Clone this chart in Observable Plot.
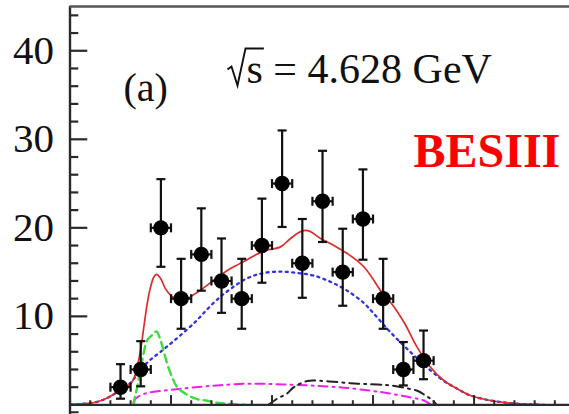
<!DOCTYPE html>
<html><head><meta charset="utf-8">
<script src="https://cdn.jsdelivr.net/npm/d3@7"></script>
<script src="https://cdn.jsdelivr.net/npm/@observablehq/plot@0.6"></script>
<style>html,body{margin:0;padding:0;background:#fff;overflow:hidden}</style>
</head><body><div id="chart"></div>
<script>
// ---- data ----
const binCenters = [0.5,0.7,0.9,1.1,1.3,1.5,1.7,1.9,2.1,2.3,2.5,2.7,2.9,3.1,3.3,3.5];
const counts     = [2,4,20,12,17,14,12,18,25,16,23,15,21,12,4,5];
const errLow     = [0.7,2.1,15.6,8.6,12.9,10.4,8.6,13.8,20.1,12.1,18.4,11.2,16.4,8.6,2.2,2.9];
const errHigh    = [4.6,7.2,25.5,16.5,22.2,18.8,16.5,23.3,31.0,21.0,28.7,19.9,26.6,16.5,7.1,8.4];
const binHalf = 0.1;

const totalX = [0.005,0.252,0.384,0.483,0.582,0.632,0.665,0.698,0.731,0.764,0.797,0.830,0.856,0.896,0.946,0.995,1.045,1.094,1.160,1.243,1.309,1.497,1.589,1.754,1.919,2.084,2.183,2.299,2.364,2.480,2.612,2.745,2.909,3.101,3.173,3.305,3.438,3.569,3.701,3.834,3.965,4.163,4.361,4.559,4.708];
const totalY = [0.05,0.3,0.87,1.6,2.2,2.95,4.3,6.15,8.8,11.4,13.3,14.45,14.75,14.3,13.1,12.4,12.0,11.9,12.0,12.6,13.1,14.7,15.4,16.4,17.4,17.85,18.8,19.65,19.65,18.8,18.0,17.1,15.6,12.5,11.6,9.36,6.5,4.26,2.76,1.82,1.06,0.5,0.2,0.05,0.0];

const bkgX = [0.005,0.252,0.384,0.483,0.582,0.748,0.913,1.077,1.243,1.342,1.457,1.589,1.754,1.919,2.084,2.250,2.414,2.579,2.745,2.909,3.008,3.173,3.371,3.569,3.701,3.834,3.965,4.163,4.361,4.559,4.708];
const bkgY = [0.05,0.3,0.87,1.55,2.3,4.6,6.15,7.7,9.4,10.6,11.9,13.1,14.3,14.9,15.05,14.9,14.6,13.9,12.9,11.5,10.3,8.2,5.96,3.9,2.7,1.82,1.06,0.5,0.2,0.05,0.0];

const peakX = [0.629,0.642,0.665,0.715,0.764,0.814,0.856,0.896,0.929,0.962,1.012,1.061,1.144,1.243,1.342,1.457,1.589,1.738];
const peakY = [0.0,0.87,2.0,5.0,7.3,7.9,8.3,7.3,6.0,4.65,3.1,2.0,1.26,0.7,0.5,0.24,0.1,0.0];

const flatX = [0.629,0.648,0.748,0.913,1.077,1.243,1.457,1.787,2.117,2.448,2.711,2.975,3.107,3.272,3.438,3.503,3.550,3.586];
const flatY = [0.3,0.7,1.3,1.6,1.8,2.0,2.2,2.4,2.3,2.15,1.95,1.6,1.4,1.06,0.7,0.5,0.2,0.0];

const otherX = [1.965,2.051,2.151,2.216,2.349,2.480,2.777,3.042,3.173,3.322,3.438,3.520,3.569,3.602,3.629];
const otherY = [0.0,0.7,1.3,2.0,2.7,2.72,2.45,2.3,2.2,1.9,1.6,1.06,0.7,0.4,0.0];

const yTickLabels = [10,20,30,40];
const yMajorTicks = [10,20,30,40];
const yMinorTicks = [2,4,6,8,12,14,16,18,22,24,26,28,32,34,36,38,42,44];
const xMajorTicks = [1,2,3,4];
const xMinorTicks = [0.2,0.4,0.6,0.8,1.2,1.4,1.6,1.8,2.2,2.4,2.6,2.8,3.2,3.4,3.6,3.8,4.2,4.4,4.6,4.8];

const energyParts = ["s", " = 4.628 GeV"];
const energyLabel = [energyParts.join("")];
const panelLabel = ["(a)"];
const expLabel = ["BESIII"];

// ---- chart ----
const serif = "'Liberation Serif', 'Times New Roman', serif";
const axisColor = "#2a2a2a";
const hCap = {draw(ctx, size){ const r = Math.sqrt(size/Math.PI); ctx.moveTo(-r,0); ctx.lineTo(r,0); }};
const vCap = {draw(ctx, size){ const r = Math.sqrt(size/Math.PI); ctx.moveTo(0,-r); ctx.lineTo(0,r); }};

const chart = Plot.plot({
  width: 569, height: 414,
  marginLeft: 69.5, marginRight: 0, marginTop: 6, marginBottom: 9.6,
  x: {domain: [0, 4.945], axis: null},
  y: {domain: [0, 45], axis: null},
  style: {background: "#fff", fontFamily: serif},
  marks: [
    // curves
    Plot.line(bkgY, {x: bkgX, y: bkgY, stroke: "#2f2ff0", strokeWidth: 2.3, strokeDasharray: "2 4.4", curve: "catmull-rom"}),
    Plot.line(flatY, {x: flatX, y: flatY, stroke: "#ee1fee", strokeWidth: 2, strokeDasharray: "9 5 2 5", curve: "catmull-rom"}),
    Plot.line(otherY, {x: otherX, y: otherY, stroke: "#222", strokeWidth: 2, strokeDasharray: "10 5 2 5", curve: "catmull-rom"}),
    Plot.line(peakY, {x: peakX, y: peakY, stroke: "#3ddc3d", strokeWidth: 2.4, strokeDasharray: "8 5", curve: "catmull-rom"}),
    Plot.line(totalY, {x: totalX, y: totalY, stroke: "#e02b2b", strokeWidth: 1.7, curve: "catmull-rom"}),
    // frame
    Plot.ruleX([0], {y1: -1.1, y2: 45, stroke: axisColor, strokeWidth: 2.4}),
    Plot.ruleY([0], {x1: 0, x2: 4.945, stroke: axisColor, strokeWidth: 2.4}),
    Plot.ruleY([45], {x1: 0, x2: 4.945, stroke: "#555", strokeWidth: 2.4}),
    Plot.ruleY([-0.83], {x1: 0, x2: 0.09, stroke: axisColor, strokeWidth: 2}),
    // ticks
    Plot.ruleY(yMajorTicks, {x1: 0, x2: 0.176, stroke: axisColor, strokeWidth: 2.2}),
    Plot.ruleY(yMinorTicks, {x1: 0, x2: 0.087, stroke: axisColor, strokeWidth: 2.2}),
    Plot.ruleX(xMajorTicks, {y1: 0, y2: 1.05, stroke: axisColor, strokeWidth: 2}),
    Plot.ruleX(xMinorTicks, {y1: 0, y2: 0.47, stroke: axisColor, strokeWidth: 2}),
    Plot.text(yTickLabels, {x: 0, y: d => d, text: d => String(d), textAnchor: "end", lineAnchor: "middle", dx: -16, fontSize: 41, fontFamily: serif, fill: "#111"}),
    // data points
    Plot.ruleX(counts, {x: binCenters, y1: errLow, y2: errHigh, stroke: "#111", strokeWidth: 2.2}),
    Plot.ruleY(counts, {y: counts, x1: binCenters.map(c => c - binHalf), x2: binCenters.map(c => c + binHalf), stroke: "#111", strokeWidth: 2.2}),
    Plot.dot(counts, {x: binCenters, y: errLow, symbol: hCap, r: 4.5, stroke: "#111", strokeWidth: 2.2, fill: "none"}),
    Plot.dot(counts, {x: binCenters, y: errHigh, symbol: hCap, r: 4.5, stroke: "#111", strokeWidth: 2.2, fill: "none"}),
    Plot.dot(counts, {x: binCenters.map(c => c - binHalf), y: counts, symbol: vCap, r: 4.5, stroke: "#111", strokeWidth: 2.2, fill: "none"}),
    Plot.dot(counts, {x: binCenters.map(c => c + binHalf), y: counts, symbol: vCap, r: 4.5, stroke: "#111", strokeWidth: 2.2, fill: "none"}),
    Plot.dot(counts, {x: binCenters, y: counts, r: 7.7, fill: "#000", stroke: "none"}),
    // annotations
    Plot.text(panelLabel, {frameAnchor: "top-left", dx: 53.5, dy: 82, lineAnchor: "middle", text: d => d, textAnchor: "start", fontSize: 40, fontFamily: serif, fill: "#111"}),
    Plot.text(energyLabel, {frameAnchor: "top-left", dx: 156.5, dy: 63.5, lineAnchor: "middle", text: d => d, textAnchor: "start", fontSize: 42, fontFamily: serif, fill: "#111"}),
    Plot.text(expLabel, {frameAnchor: "top-left", dx: 343.5, dy: 145.5, lineAnchor: "middle", text: d => d, textAnchor: "start", fontSize: 48, fontWeight: "bold", fontFamily: serif, fill: "#ff0000"})
  ]
});
document.getElementById("chart").appendChild(chart);

// lay out "√s = 4.628 GeV" with a drawn radical sign over s
d3.select(chart).selectAll("text").each(function() {
  const node = this;
  const t = d3.select(node);
  if (t.text() !== energyLabel[0]) return;
  const x0 = +(node.getAttribute("x") || 0);
  t.text(null).style("white-space", "pre");
  t.append("tspan").attr("x", x0 + 20).text(energyParts[0]);
  t.append("tspan").text(energyParts[1]);
  const p = node.getStartPositionOfChar(0);
  const sw = node.getExtentOfChar(0).width;
  const b = p.y, sx = p.x;
  const path = d3.select(node.parentNode).append("path")
    .attr("d", `M${sx-19},${b-14}L${sx-15},${b-17}L${sx-9},${b+2}L${sx-1},${b-35}L${sx+sw+1},${b-35}`)
    .attr("fill", "none").attr("stroke", "#111").attr("stroke-width", 1.9)
    .attr("stroke-linejoin", "miter");
  const tr = node.getAttribute("transform");
  if (tr) path.attr("transform", tr);
});
</script></body></html>
